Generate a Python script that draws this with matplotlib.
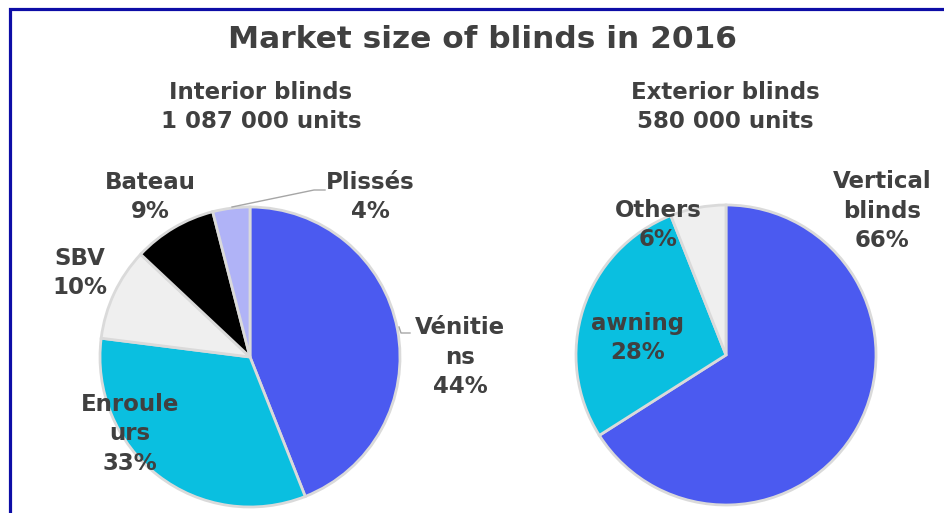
import matplotlib.pyplot as plt

# Interior blinds breakdown (share of units, %)
interior_names = ["Vénitie\nns", "Enroule\nurs", "SBV", "Bateau", "Plissés"]
interior_share = [44, 33, 10, 9, 4]
interior_colors = ["#4B5AF0", "#0ABFE0", "#EFEFEF", "#000000", "#B0B3F7"]

# Exterior blinds breakdown (share of units, %)
exterior_names = ["Vertical\nblinds", "awning", "Others"]
exterior_share = [66, 28, 6]
exterior_colors = ["#4B5AF0", "#0ABFE0", "#EFEFEF"]

W, H = 944, 513
TXT = "#404040"
plt.rcParams['font.family'] = ['DejaVu Sans']

fig = plt.figure(figsize=(W / 100, H / 100), dpi=100)
ax = fig.add_axes([0, 0, 1, 1])


def y(v):
    # pixel row measured from the top
    return H - v


wedge_style = dict(edgecolor="#DADADA", linewidth=2)
ax.pie(interior_share, colors=interior_colors, startangle=90, counterclock=False,
       center=(250, y(357)), radius=150, wedgeprops=wedge_style, frame=True)
ax.pie(exterior_share, colors=exterior_colors, startangle=90, counterclock=False,
       center=(726, y(355)), radius=150, wedgeprops=wedge_style, frame=True)
ax.set_xlim(0, W)
ax.set_ylim(0, H)
ax.set_aspect('equal')
ax.axis('off')

lab = dict(color=TXT, fontsize=16.5, fontweight='bold', ha='center', va='center',
           linespacing=1.38)

# interior labels
int_pos = [(460, 357), (130, 434), (80, 273), (150, 197), (370, 197)]
for name, val, (px, py) in zip(interior_names, interior_share, int_pos):
    ax.text(px, y(py), f"{name}\n{val}%", **lab)

# exterior labels
ext_pos = [(882, 211), (638, 338), (658, 225)]
for name, val, (px, py) in zip(exterior_names, exterior_share, ext_pos):
    ax.text(px, y(py), f"{name}\n{val}%", **lab)

# leader lines
ax.plot([232, 314, 325], [y(207), y(190), y(190)], color="#A6A6A6", lw=1)
ax.plot([399, 401, 410], [y(327), y(333), y(333)], color="#A6A6A6", lw=1)

# titles
ax.text(482, y(40), "Market size of blinds in 2016", color=TXT, fontsize=22.5,
        fontweight='bold', ha='center', va='center')
ax.text(261, y(107), "Interior blinds\n1 087 000 units", **lab)
ax.text(725, y(107), "Exterior blinds\n580 000 units", **lab)

# frame edge
ax.plot([10, 10, W + 5], [-5, y(8.5), y(8.5)], color="#0D0DA6", lw=2.3,
        solid_joinstyle='miter')

fig.savefig("out.png", dpi=100)
